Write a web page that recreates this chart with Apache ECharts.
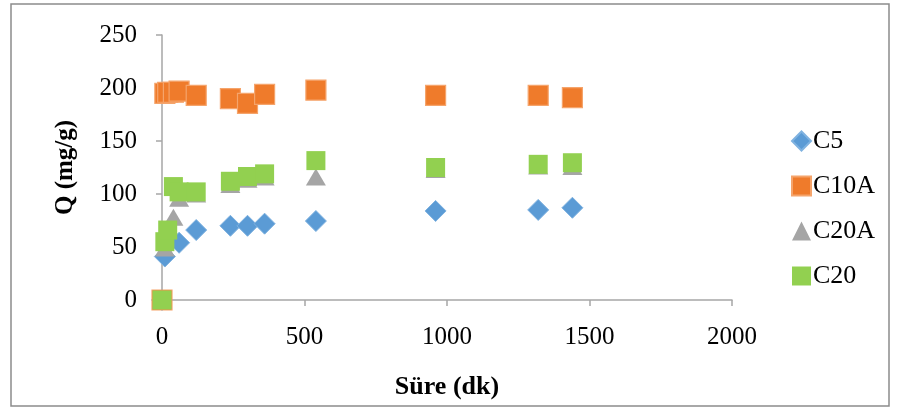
<!DOCTYPE html>
<html>
<head>
<meta charset="utf-8">
<title>Q vs Süre</title>
<script src="https://cdn.jsdelivr.net/npm/echarts@6/dist/echarts.min.js"></script>
<style>
  html, body { margin: 0; padding: 0; background: #ffffff; }
  #chart { width: 900px; height: 409px; }
</style>
</head>
<body>
<div id="chart"></div>
<script>
// Sampling times (dk)
const times = [0, 10, 20, 40, 60, 120, 240, 300, 360, 540, 960, 1320, 1440];

// Adsorbed amount Q (mg/g) per sample; null = no reading at that time
const c5   = [0, 41, null, null, 54, 66, 70, 70, 72, 74.5, 84, 85, 87];
const c10a = [0, 195, 196, 196, 197, 193, 190, 185.5, 194, 198, 193, 193, 191];
const c20a = [0, 49, null, 78, 96, 100, 109, 114, 116, 116, 123, 126.5, 126];
const c20  = [0, 55, 66, 107, 102, 102, 112, 116.5, 119, 131.5, 125, 128, 129.5];

const xTicks = [0, 500, 1000, 1500, 2000];
const yTicks = [0, 50, 100, 150, 200, 250];

function pairs(vals) {
  const out = [];
  times.forEach((t, i) => { if (vals[i] !== null) out.push([t, vals[i]]); });
  return out;
}

const serif = '"Liberation Serif", "Times New Roman", serif';
const axisGray = '#a6a6a6';

const chart = echarts.init(document.getElementById('chart'), null, { renderer: 'canvas' });

chart.setOption({
  animation: false,
  backgroundColor: '#ffffff',
  textStyle: { fontFamily: serif },
  graphic: [{
    type: 'rect',
    shape: { x: 11, y: 4, width: 878, height: 402 },
    style: { fill: 'none', stroke: '#8c8c8c', lineWidth: 1.5 },
    silent: true
  }],
  grid: { left: 162, right: 168, top: 35, bottom: 109, containLabel: false },
  xAxis: {
    type: 'value',
    min: xTicks[0],
    max: xTicks[xTicks.length - 1],
    interval: xTicks[1] - xTicks[0],
    name: 'Süre (dk)',
    nameLocation: 'middle',
    nameGap: 74,
    nameTextStyle: { fontFamily: serif, fontSize: 26, fontWeight: 'bold', color: '#000' },
    axisLine: { show: true, onZero: false, lineStyle: { color: axisGray, width: 1.5 } },
    axisTick: { show: true, inside: false, length: 6, lineStyle: { color: axisGray, width: 1.5 } },
    axisLabel: { margin: 25, fontFamily: serif, fontSize: 25, color: '#000',
                 formatter: v => String(v) },
    splitLine: { show: false }
  },
  yAxis: {
    type: 'value',
    min: yTicks[0],
    max: yTicks[yTicks.length - 1],
    interval: yTicks[1] - yTicks[0],
    name: 'Q (mg/g)',
    nameLocation: 'middle',
    nameGap: 84,
    nameRotate: 90,
    nameTextStyle: { fontFamily: serif, fontSize: 25, fontWeight: 'bold', color: '#000' },
    axisLine: { show: true, lineStyle: { color: axisGray, width: 1.5 } },
    axisTick: { show: true, inside: false, length: 6, lineStyle: { color: axisGray, width: 1.5 } },
    axisLabel: { margin: 25, fontFamily: serif, fontSize: 25, color: '#000',
                 formatter: v => String(v) },
    splitLine: { show: false }
  },
  legend: {
    orient: 'vertical',
    left: 791,
    top: 128,
    padding: 0,
    itemWidth: 19,
    itemHeight: 19,
    itemGap: 19,
    textStyle: { fontFamily: serif, fontSize: 26, color: '#000', padding: [0, 0, 0, -3] },
    data: [
      { name: 'C5', icon: 'diamond' },
      { name: 'C10A', icon: 'rect' },
      { name: 'C20A', icon: 'triangle' },
      { name: 'C20', icon: 'rect' }
    ]
  },
  series: [
    {
      name: 'C5', type: 'scatter', symbol: 'diamond', symbolSize: 21,
      itemStyle: { color: '#5b9bd5', borderColor: '#7fb2e0', borderWidth: 1, opacity: 1 },
      data: pairs(c5)
    },
    {
      name: 'C10A', type: 'scatter', symbol: 'rect', symbolSize: 20,
      itemStyle: { color: '#ef7b2b', borderColor: '#f5a46b', borderWidth: 1.2, opacity: 1 },
      data: pairs(c10a)
    },
    {
      name: 'C20A', type: 'scatter', symbol: 'triangle', symbolSize: [20, 17],
      itemStyle: { color: '#a5a5a5', opacity: 1 },
      data: pairs(c20a)
    },
    {
      name: 'C20', type: 'scatter', symbol: 'rect', symbolSize: 19,
      itemStyle: { color: '#92d050', opacity: 1 },
      data: pairs(c20)
    }
  ]
});
</script>
</body>
</html>
